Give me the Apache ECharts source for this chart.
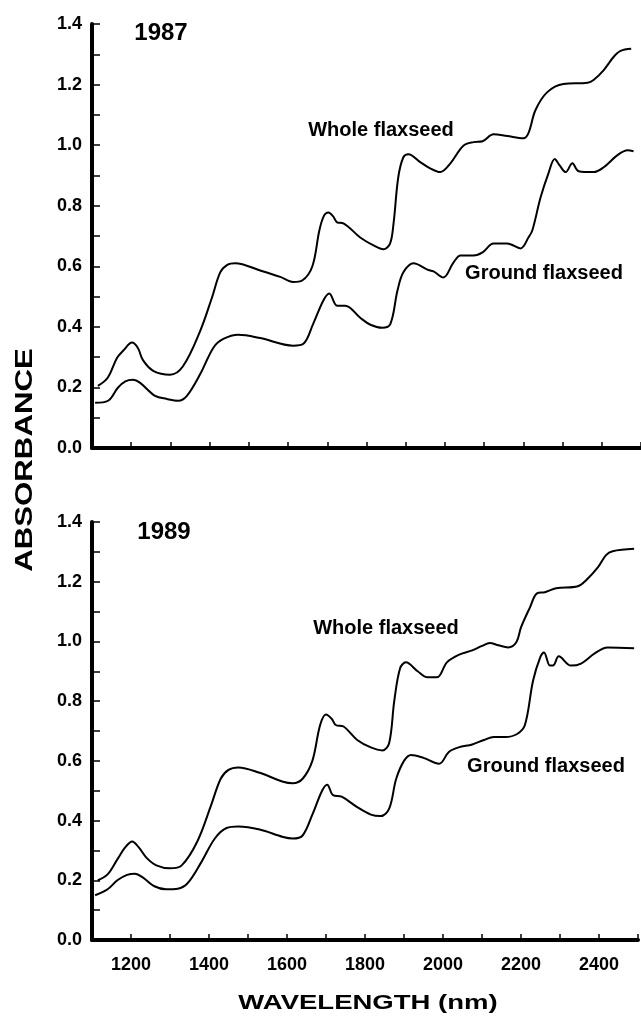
<!DOCTYPE html>
<html>
<head>
<meta charset="utf-8">
<script src="https://cdn.jsdelivr.net/npm/echarts@6/dist/echarts.min.js"></script>
<style>
html,body{margin:0;padding:0;background:#fff;}
#c{width:641px;height:1017px;}
</style>
</head>
<body>
<div id="c"></div>
<script>
// ---- data (wavelength nm, absorbance) ----
var panelYears = ['1987', '1989'];
var seriesNames = ['Whole flaxseed', 'Ground flaxseed'];
var xTickLabels = [1200, 1400, 1600, 1800, 2000, 2200, 2400];
var yTickLabels = ['0.0', '0.2', '0.4', '0.6', '0.8', '1.0', '1.2', '1.4'];

var whole1987 = [[1115,0.205],[1140,0.232],[1164,0.298],[1180,0.322],[1202,0.348],[1217,0.33],[1230,0.29],[1256,0.255],[1299,0.242],[1332,0.27],[1376,0.387],[1406,0.497],[1427,0.58],[1445,0.605],[1465,0.61],[1529,0.586],[1580,0.565],[1613,0.548],[1636,0.553],[1662,0.6],[1680,0.72],[1692,0.768],[1703,0.778],[1715,0.765],[1725,0.745],[1741,0.742],[1784,0.695],[1818,0.669],[1843,0.656],[1860,0.675],[1869,0.742],[1881,0.894],[1894,0.96],[1907,0.97],[1937,0.944],[1960,0.925],[1988,0.911],[2014,0.94],[2047,0.998],[2073,1.01],[2096,1.013],[2124,1.036],[2159,1.03],[2200,1.023],[2213,1.04],[2231,1.116],[2261,1.175],[2302,1.202],[2364,1.206],[2379,1.215],[2405,1.248],[2430,1.291],[2448,1.311],[2475,1.318]];

var ground1987 = [[1108,0.149],[1141,0.156],[1166,0.199],[1185,0.22],[1205,0.225],[1222,0.216],[1261,0.172],[1291,0.162],[1320,0.156],[1342,0.172],[1376,0.244],[1410,0.332],[1435,0.36],[1473,0.374],[1529,0.363],[1613,0.338],[1639,0.344],[1664,0.41],[1690,0.487],[1705,0.51],[1725,0.47],[1746,0.47],[1784,0.43],[1810,0.407],[1840,0.397],[1861,0.41],[1879,0.52],[1894,0.58],[1920,0.61],[1955,0.589],[1971,0.583],[1996,0.563],[2022,0.613],[2040,0.636],[2073,0.636],[2096,0.646],[2124,0.675],[2159,0.675],[2193,0.659],[2213,0.695],[2223,0.719],[2244,0.828],[2264,0.907],[2280,0.954],[2292,0.934],[2308,0.911],[2325,0.94],[2341,0.914],[2379,0.911],[2405,0.927],[2440,0.967],[2466,0.983],[2481,0.98]];

var whole1989 = [[1115,0.2],[1140,0.22],[1165,0.27],[1185,0.31],[1203,0.33],[1220,0.31],[1240,0.275],[1265,0.25],[1300,0.24],[1330,0.25],[1370,0.33],[1405,0.45],[1430,0.54],[1450,0.57],[1475,0.578],[1530,0.56],[1590,0.53],[1615,0.525],[1640,0.54],[1665,0.6],[1685,0.72],[1700,0.755],[1715,0.74],[1725,0.72],[1745,0.715],[1780,0.67],[1815,0.645],[1845,0.635],[1862,0.66],[1875,0.8],[1890,0.91],[1905,0.93],[1935,0.9],[1960,0.88],[1985,0.88],[2010,0.93],[2040,0.955],[2075,0.97],[2100,0.985],[2120,0.995],[2142,0.987],[2167,0.98],[2188,0.997],[2200,1.047],[2223,1.114],[2241,1.161],[2261,1.165],[2290,1.178],[2346,1.185],[2367,1.205],[2397,1.248],[2418,1.289],[2435,1.302],[2490,1.31]];

var ground1989 = [[1108,0.15],[1140,0.17],[1165,0.2],[1190,0.218],[1210,0.222],[1230,0.21],[1260,0.18],[1290,0.17],[1320,0.172],[1345,0.19],[1380,0.26],[1415,0.34],[1445,0.375],[1475,0.38],[1530,0.37],[1590,0.345],[1615,0.34],[1640,0.35],[1665,0.42],[1690,0.5],[1703,0.52],[1718,0.485],[1740,0.48],[1780,0.445],[1815,0.42],[1840,0.415],[1862,0.44],[1880,0.54],[1900,0.6],[1918,0.62],[1950,0.61],[1990,0.59],[2015,0.63],[2040,0.645],[2075,0.655],[2105,0.67],[2130,0.68],[2160,0.68],[2190,0.69],[2210,0.72],[2231,0.869],[2249,0.946],[2259,0.963],[2274,0.919],[2282,0.919],[2297,0.95],[2328,0.919],[2354,0.926],[2389,0.96],[2422,0.98],[2490,0.977]];

// ---- chart ----
var FONT = '"Liberation Sans", Arial, Helvetica, sans-serif';
var chart = echarts.init(document.getElementById('c'), null, {renderer: 'canvas'});

function xAxis(idx, showLabels) {
  return {
    type: 'value', gridIndex: idx, min: 1100, max: 2500, interval: 100,
    axisLine: {show: true, onZero: false, lineStyle: {color: '#000', width: 4}},
    axisTick: {show: true, inside: true, length: 6, lineStyle: {color: '#000', width: 1.5}},
    axisLabel: {
      show: showLabels, margin: 16, color: '#000', fontSize: 18, fontWeight: 'bold', fontFamily: FONT,
      formatter: function (v) { return xTickLabels.indexOf(v) >= 0 ? String(v) : ''; }
    },
    splitLine: {show: false}
  };
}
function yAxis(idx) {
  return {
    type: 'value', gridIndex: idx, min: 0, max: 1.4, interval: 0.2,
    axisLine: {show: true, lineStyle: {color: '#000', width: 4}},
    axisTick: {show: true, inside: true, length: 8, lineStyle: {color: '#000', width: 1.5}},
    minorTick: {show: true, splitNumber: 2, length: 8, lineStyle: {color: '#000', width: 1.5}},
    axisLabel: {
      margin: 10, color: '#000', fontSize: 18, fontWeight: 'bold', fontFamily: FONT,
      formatter: function (v) { return yTickLabels[Math.round(v / 0.2)]; }
    },
    splitLine: {show: false}
  };
}
function line(name, data, idx) {
  return {
    name: name, type: 'line', xAxisIndex: idx, yAxisIndex: idx, data: data,
    showSymbol: false, smooth: 0.35, silent: true,
    lineStyle: {color: '#000', width: 2}
  };
}
function txt(x, y, s, size, extra) {
  var o = {
    type: 'text', x: x, y: y, silent: true,
    style: {text: s, fill: '#000', fontSize: size, fontWeight: 'bold', fontFamily: FONT,
            align: 'center', verticalAlign: 'middle'}
  };
  for (var k in extra) o[k] = extra[k];
  return o;
}

chart.setOption({
  animation: false,
  backgroundColor: '#fff',
  grid: [
    {left: 92, right: 0, top: 24, height: 424},
    {left: 92, right: 0, top: 522, height: 418}
  ],
  xAxis: [xAxis(0, false), xAxis(1, true)],
  yAxis: [yAxis(0), yAxis(1)],
  series: [
    line(seriesNames[0] + ' ' + panelYears[0], whole1987, 0),
    line(seriesNames[1] + ' ' + panelYears[0], ground1987, 0),
    line(seriesNames[0] + ' ' + panelYears[1], whole1989, 1),
    line(seriesNames[1] + ' ' + panelYears[1], ground1989, 1)
  ],
  graphic: [
    txt(161, 33, panelYears[0], 24),
    txt(164, 532, panelYears[1], 24),
    txt(381, 130, seriesNames[0], 20),
    txt(544, 273, seriesNames[1], 20),
    txt(386, 628, seriesNames[0], 20),
    txt(546, 766, seriesNames[1], 20),
    txt(25, 460, 'ABSORBANCE', 24, {rotation: Math.PI / 2, scaleX: 1.3}),
    txt(368, 1003, 'WAVELENGTH (nm)', 21, {scaleX: 1.31})
  ]
});
</script>
</body>
</html>
